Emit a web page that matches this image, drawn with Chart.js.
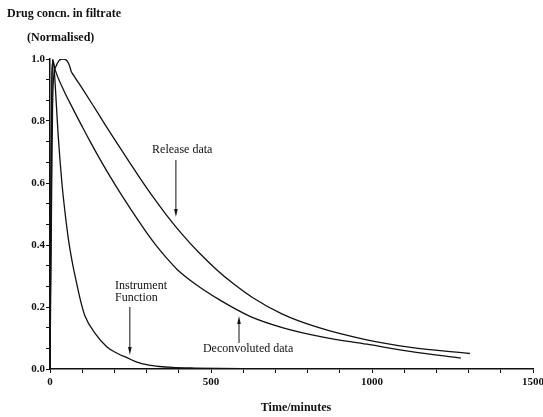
<!DOCTYPE html>
<html lang="en">
<head>
  <meta charset="UTF-8" />
  <title>Drug release deconvolution</title>
  <script src="https://cdn.jsdelivr.net/npm/chart.js"></script>
  <style>
    body { margin: 0; background: #fff; }
    canvas { display: block; }
  </style>
</head>
<body>
  <canvas id="chart" width="543" height="417"></canvas>
  <script>
    // values (time in minutes, normalised concentration)
    const releaseTime = [0, 4, 8, 12, 18, 28, 40, 52, 60, 66, 75, 100, 134, 170, 207, 245, 280, 320, 363, 410, 460, 520, 570, 630, 720, 830, 980, 1120, 1304];
    const releaseConc = [0, 0.45, 0.85, 0.95, 0.975, 0.995, 1.0, 0.995, 0.98, 0.96, 0.945, 0.905, 0.85, 0.79, 0.73, 0.67, 0.615, 0.555, 0.495, 0.435, 0.378, 0.318, 0.275, 0.23, 0.178, 0.135, 0.095, 0.07, 0.05];

    const deconvTime = [0, 3, 6, 10, 16, 40, 71, 100, 124, 155, 186, 218, 248, 275, 300, 330, 363, 394, 450, 528, 621, 724, 848, 984, 1118, 1276];
    const deconvConc = [0, 0.6, 0.95, 0.99, 0.965, 0.905, 0.84, 0.782, 0.735, 0.677, 0.622, 0.568, 0.52, 0.478, 0.44, 0.398, 0.357, 0.322, 0.275, 0.222, 0.17, 0.133, 0.103, 0.08, 0.057, 0.035];

    const instrTime = [0, 2, 5, 8, 12, 16, 25, 37, 45, 57, 70, 80, 95, 109, 140, 177, 210, 242, 270, 304, 340, 380, 450, 600, 800, 1000, 1300];
    const instrConc = [0, 0.4, 0.85, 1.0, 0.98, 0.92, 0.76, 0.6, 0.52, 0.42, 0.34, 0.29, 0.22, 0.17, 0.115, 0.071, 0.05, 0.035, 0.022, 0.013, 0.008, 0.005, 0.003, 0.001, 0, 0, 0];

    // labels on the plot, anchored in data units
    const noteTexts = ["Release data", "Instrument", "Function", "Deconvoluted data"];
    const noteX = [317, 202, 202, 475];
    const noteY = [0.706, 0.268, 0.229, 0.065];

    // arrows: x, from y, to y (tip)
    const arrowX = [391, 248, 587];
    const arrowFrom = [0.674, 0.2, 0.084];
    const arrowTo = [0.49, 0.045, 0.171];

    function pts(xs, ys) {
      return xs.map((x, i) => ({ x: x, y: ys[i] }));
    }

    const lineStyle = {
      borderColor: '#111',
      borderWidth: 1.3,
      pointRadius: 0,
      fill: false,
      cubicInterpolationMode: 'monotone'
    };

    const serif = "'Liberation Serif', 'DejaVu Serif', serif";

    const notes = {
      id: 'notes',
      afterDatasetsDraw(chart) {
        const ctx = chart.ctx;
        const xs = chart.scales.x, ys = chart.scales.y;
        ctx.save();
        ctx.fillStyle = '#111';
        ctx.strokeStyle = '#111';
        ctx.font = "12px " + serif;
        ctx.textBaseline = 'middle';
        ctx.textAlign = 'left';
        noteTexts.forEach((t, i) => {
          ctx.fillText(t, xs.getPixelForValue(noteX[i]), ys.getPixelForValue(noteY[i]));
        });
        ctx.lineWidth = 1;
        arrowX.forEach((ax, i) => {
          const px = xs.getPixelForValue(ax);
          const y0 = ys.getPixelForValue(arrowFrom[i]);
          const y1 = ys.getPixelForValue(arrowTo[i]);
          const dir = y1 > y0 ? 1 : -1;
          ctx.beginPath();
          ctx.moveTo(px, y0);
          ctx.lineTo(px, y1 - dir * 6);
          ctx.stroke();
          ctx.beginPath();
          ctx.moveTo(px, y1);
          ctx.lineTo(px - 1.8, y1 - dir * 8);
          ctx.lineTo(px + 1.8, y1 - dir * 8);
          ctx.closePath();
          ctx.fill();
        });
        // axis captions
        ctx.font = "bold 12px " + serif;
        ctx.fillText("Drug concn. in filtrate", 7, 14);
        ctx.fillText("(Normalised)", 27, 38);
        ctx.textAlign = 'center';
        ctx.fillText("Time/minutes", 296, 408);
        ctx.restore();
      }
    };

    new Chart(document.getElementById('chart'), {
      type: 'line',
      data: {
        datasets: [
          Object.assign({ label: 'Release data', data: pts(releaseTime, releaseConc) }, lineStyle),
          Object.assign({ label: 'Deconvoluted data', data: pts(deconvTime, deconvConc) }, lineStyle),
          Object.assign({ label: 'Instrument Function', data: pts(instrTime, instrConc) }, lineStyle)
        ]
      },
      options: {
        responsive: false,
        animation: false,
        layout: { padding: { left: 0, top: 59, right: 10, bottom: 0 } },
        plugins: {
          legend: { display: false },
          tooltip: { enabled: false }
        },
        scales: {
          x: {
            type: 'linear',
            min: 0,
            max: 1500,
            afterFit(scale) { scale.height = 48; scale.paddingLeft = 0; scale.paddingRight = 0; },
            grid: { drawOnChartArea: false, tickLength: 4, tickColor: '#111' },
            border: { color: '#111', width: 1.5 },
            ticks: {
              stepSize: 100,
              maxTicksLimit: 20,
              autoSkip: false,
              maxRotation: 0,
              padding: 3,
              color: '#111',
              font: { family: serif, size: 11, weight: 'bold' },
              callback: (v) => (v % 500 === 0 ? String(v) : '')
            }
          },
          y: {
            min: 0,
            max: 1,
            afterFit(scale) { scale.width = 50; },
            grid: { drawOnChartArea: false, tickLength: 4, tickColor: '#111' },
            border: { color: '#111', width: 1.5 },
            ticks: {
              count: 16,
              precision: 4,
              maxTicksLimit: 20,
              autoSkip: false,
              padding: 1,
              color: '#111',
              font: { family: serif, size: 11, weight: 'bold' },
              callback: (v) => (Math.abs(v * 5 - Math.round(v * 5)) < 1e-3 ? v.toFixed(1) : '')
            }
          }
        }
      },
      plugins: [notes]
    });
  </script>
</body>
</html>
